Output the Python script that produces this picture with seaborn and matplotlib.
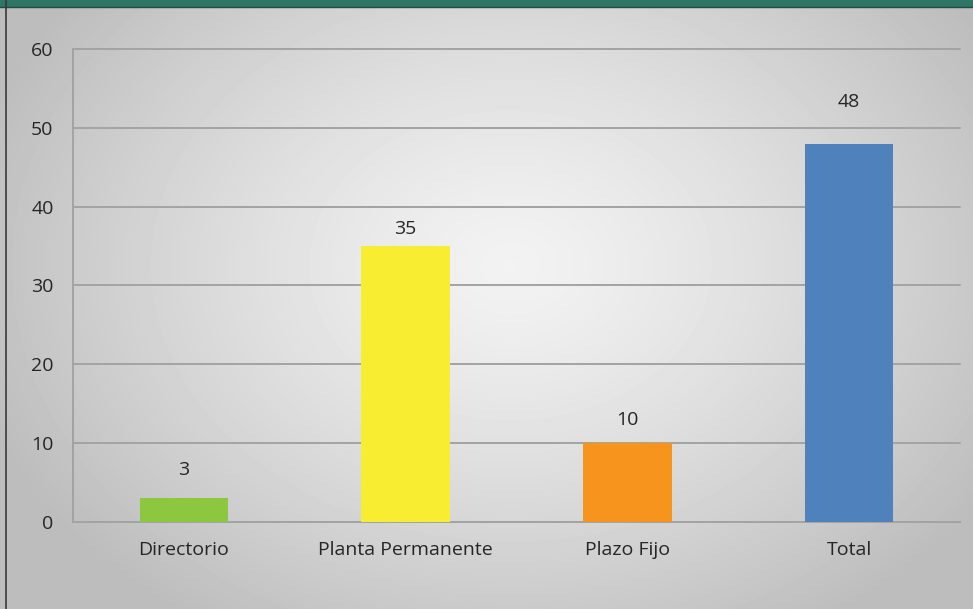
import numpy as np
import pandas as pd
import seaborn as sns
import matplotlib.pyplot as plt

categories = ["Directorio", "Planta Permanente", "Plazo Fijo", "Total"]
values = [3, 35, 10, 48]
bar_colors = ["#8DC63F", "#F9ED32", "#F7941D", "#4F81BD"]
y_ticks = [0, 10, 20, 30, 40, 50, 60]
label_offsets = [3.6, 2.2, 2.9, 5.3]

df = pd.DataFrame({"categoria": categories, "valor": values})

sns.set_style("white")
plt.rcParams["font.family"] = ["Open Sans", "DejaVu Sans"]

W, H = 973, 609
fig = plt.figure(figsize=(W / 100, H / 100), dpi=100)

# radial gray gradient behind everything
bg = fig.add_axes([0, 0, 1, 1], zorder=0)
yy, xx = np.mgrid[0:H, 0:W]
r = np.sqrt(((xx - 510) / 560.0) ** 2 + ((yy - 265) / 430.0) ** 2)
shade = np.clip(0.95 - 0.21 * r ** 1.3, 0.74, 0.95)
bg.imshow(shade, cmap="gray", vmin=0, vmax=1, aspect="auto", extent=[0, W, H, 0])
bg.axhspan(0, 6, color="#2E7566")
bg.axhline(6.5, color="#1F4B42", lw=1)
bg.axvline(5.5, color="#3A3A3A", lw=1.2)
bg.set_xlim(0, W)
bg.set_ylim(H, 0)
bg.axis("off")

ax = fig.add_axes([73 / W, 1 - 522 / H, (960 - 73) / W, (522 - 49) / H], zorder=1)
ax.patch.set_alpha(0)
sns.barplot(data=df, x="categoria", y="valor", hue="categoria", palette=bar_colors,
            width=0.4, legend=False, ax=ax, saturation=1, zorder=3, linewidth=0)

ax.set_xlim(-0.5, 3.5)
ax.set_ylim(0, 60)
ax.set_yticks(y_ticks)
ax.yaxis.grid(True, color="#A3A3A5", lw=1.4, zorder=0)
for gl in ax.get_ygridlines():
    gl.set_clip_on(False)
ax.set_axisbelow(True)
for s in ["top", "right"]:
    ax.spines[s].set_visible(False)
for s in ["left", "bottom"]:
    ax.spines[s].set_color("#A3A3A5")
    ax.spines[s].set_linewidth(1.4)

ax.set_xticks([-0.5, 0.5, 1.5, 2.5, 3.5], minor=False)
ax.set_xticklabels([])
ax.set_xticks(range(4), minor=True)
ax.set_xticklabels(categories, minor=True)
ax.tick_params(axis="x", which="major", length=7, width=1.4, color="#A3A3A5")
ax.tick_params(axis="x", which="minor", length=0, pad=14, labelsize=14, labelcolor="#262626")
ax.tick_params(axis="y", length=6, width=1.4, color="#A3A3A5", pad=8, labelsize=14, labelcolor="#262626")
ax.set_xlabel("")
ax.set_ylabel("")

for i, v in enumerate(values):
    ax.text(i, v + label_offsets[i], str(v), ha="center", va="center", fontsize=14, color="#262626")

fig.savefig("out.png", dpi=100)
